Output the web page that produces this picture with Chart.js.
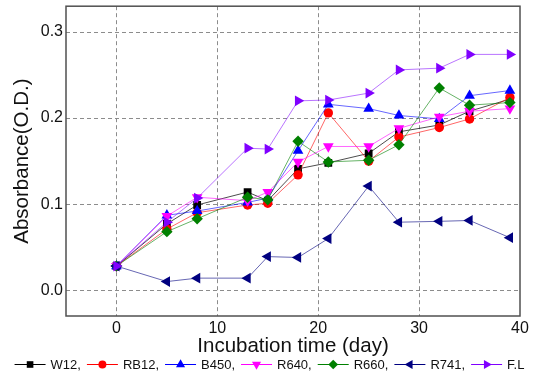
<!DOCTYPE html>
<html>
<head>
<meta charset="utf-8">
<script src="https://cdn.jsdelivr.net/npm/chart.js@4"></script>
<style>
html,body{margin:0;padding:0;background:#fff;}
#wrap{width:539px;height:374px;position:relative;}
</style>
</head>
<body>
<div id="wrap"><canvas id="c" width="539" height="374"></canvas></div>
<script>
const days = [0, 5, 8, 13, 15, 18, 21, 25, 28, 32, 35, 39];
const seriesNames = ["W12", "RB12", "B450", "R640", "R660", "R741", "F.L"];
const W12  = [0.028, 0.077, 0.099, 0.114, 0.104, 0.141, 0.148, 0.159, 0.184, 0.192, 0.208, 0.222];
const RB12 = [0.028, 0.071, 0.090, 0.099, 0.101, 0.134, 0.206, 0.150, 0.178, 0.189, 0.199, 0.224];
const B450 = [0.028, 0.087, 0.092, 0.102, 0.107, 0.162, 0.216, 0.211, 0.203, 0.199, 0.226, 0.232];
const R640 = [0.028, 0.086, 0.108, 0.104, 0.114, 0.149, 0.167, 0.167, 0.188, 0.2015, 0.208, 0.211];
const R660 = [0.028, 0.068, 0.083, 0.108, 0.105, 0.173, 0.149, 0.151, 0.169, 0.235, 0.215, 0.218];
const R741 = [0.028, 0.010, 0.014, 0.014, 0.039, 0.038, 0.060, 0.121, 0.079, 0.080, 0.081, 0.061];
const FL   = [0.028, 0.079, 0.107, 0.165, 0.164, 0.220, 0.221, 0.229, 0.256, 0.258, 0.274, 0.274];
const xTicks = [0, 10, 20, 30, 40];
const yTicks = [0.0, 0.1, 0.2, 0.3];

const seriesValues = [W12, RB12, B450, R640, R660, R741, FL];
const colors = ["#000000", "#ff0000", "#0000ff", "#ff00ff", "#008000", "#000080", "#8000ff"];
const lineColors = ["rgba(0,0,0,0.7)", "rgba(255,0,0,0.6)", "rgba(0,0,255,0.6)", "rgba(255,0,255,0.6)", "rgba(0,128,0,0.6)", "rgba(0,0,128,0.6)", "rgba(128,0,255,0.55)"];
const styles = [
  {s: "rect", r: 5.5, rot: 0},
  {s: "circle", r: 4.7, rot: 0},
  {s: "triangle", r: 6.2, rot: 0},
  {s: "triangle", r: 6.2, rot: 180},
  {s: "rectRot", r: 5.7, rot: 0},
  {s: "triangle", r: 6.2, rot: -90},
  {s: "triangle", r: 6.2, rot: 90}
];
const FONT = '"Liberation Sans", Arial, sans-serif';

const datasets = seriesNames.map((name, i) => ({
  label: name,
  data: days.map((d, k) => ({x: d, y: seriesValues[i][k]})),
  borderColor: lineColors[i],
  backgroundColor: colors[i],
  pointBackgroundColor: colors[i],
  pointBorderColor: colors[i],
  pointBorderWidth: 0,
  borderWidth: 1,
  pointStyle: styles[i].s,
  pointRotation: styles[i].rot,
  pointRadius: styles[i].r,
  pointHoverRadius: styles[i].r,
  tension: 0,
  fill: false,
  order: seriesNames.length - i,
  legendColor: colors[i]
}));

const boxPlugin = {
  id: "boxPlugin",
  beforeDatasetsDraw(chart) {
    const a = chart.chartArea, ctx = chart.ctx;
    ctx.save();
    ctx.strokeStyle = "#505050";
    ctx.lineWidth = 1.5;
    ctx.strokeRect(a.left, a.top, a.right - a.left, a.bottom - a.top);
    ctx.restore();
  }
};

const legendPlugin = {
  id: "customLegend",
  afterDraw(chart) {
    const ctx = chart.ctx;
    ctx.save();
    ctx.font = "13px " + FONT;
    ctx.textBaseline = "middle";
    ctx.textAlign = "left";
    const lineW = 31, gap1 = 5, gap2 = 6;
    const dsets = chart.data.datasets;
    const items = dsets.map((ds, i) => {
      const txt = ds.label + (i < dsets.length - 1 ? "," : "");
      return {ds, txt, w: ctx.measureText(txt).width};
    });
    const total = items.reduce((s, it) => s + lineW + gap1 + it.w + gap2, 0) - gap2;
    let x = (chart.width - total) / 2;
    const y = 364;
    items.forEach(it => {
      const ds = it.ds;
      ctx.strokeStyle = ds.legendColor;
      ctx.lineWidth = 1;
      ctx.beginPath();
      ctx.moveTo(x, y + 0.5);
      ctx.lineTo(x + lineW, y + 0.5);
      ctx.stroke();
      ctx.fillStyle = ds.legendColor;
      ctx.strokeStyle = ds.legendColor;
      if (Chart.helpers && Chart.helpers.drawPoint) {
        Chart.helpers.drawPoint(ctx, {pointStyle: ds.pointStyle, rotation: ds.pointRotation, radius: ds.pointRadius * 0.85, borderWidth: 0}, x + lineW / 2, y + 0.5);
      } else {
        ctx.beginPath(); ctx.arc(x + lineW / 2, y, 4, 0, Math.PI * 2); ctx.fill();
      }
      ctx.fillStyle = "#111";
      ctx.fillText(it.txt, x + lineW + gap1, y + 1);
      x += lineW + gap1 + it.w + gap2;
    });
    ctx.restore();
  }
};

new Chart(document.getElementById("c"), {
  type: "line",
  data: {datasets},
  options: {
    responsive: false,
    animation: false,
    events: [],
    layout: {padding: {top: 6, right: 19, bottom: 15, left: 0}},
    plugins: {legend: {display: false}, tooltip: {enabled: false}},
    scales: {
      x: {
        type: "linear",
        min: -5,
        max: 40,
        afterBuildTicks: s => { s.ticks = xTicks.map(v => ({value: v})); },
        afterFit: s => { s.height = 43; s.paddingLeft = 0; s.paddingRight = 0; },
        ticks: {color: "#111", font: {family: FONT, size: 16}, padding: 3, maxRotation: 0, autoSkip: false,
          callback: v => String(v)},
        grid: {drawTicks: false, lineWidth: 1,
          color: c => (c.tick && c.tick.value === 40) ? "rgba(0,0,0,0)" : "#8c8c8c"},
        border: {display: false, dash: [4, 3]},
        title: {display: true, text: "Incubation time (day)", color: "#111",
          font: {family: FONT, size: 20.5}, padding: {top: 0, bottom: 0}}
      },
      y: {
        type: "linear",
        min: -0.03,
        max: 0.33,
        afterBuildTicks: s => { s.ticks = yTicks.map(v => ({value: v})); },
        afterFit: s => { s.width = 66; s.paddingTop = 0; s.paddingBottom = 0; },
        ticks: {color: "#111", font: {family: FONT, size: 16}, padding: 3,
          callback: v => Number(v).toFixed(1)},
        grid: {drawTicks: false, lineWidth: 1, color: "#8c8c8c"},
        border: {display: false, dash: [4, 3]},
        title: {display: true, text: "Absorbance(O.D.)", color: "#111",
          font: {family: FONT, size: 20.5}, padding: {top: 10, bottom: 0}}
      }
    }
  },
  plugins: [boxPlugin, legendPlugin]
});
</script>
</body>
</html>
